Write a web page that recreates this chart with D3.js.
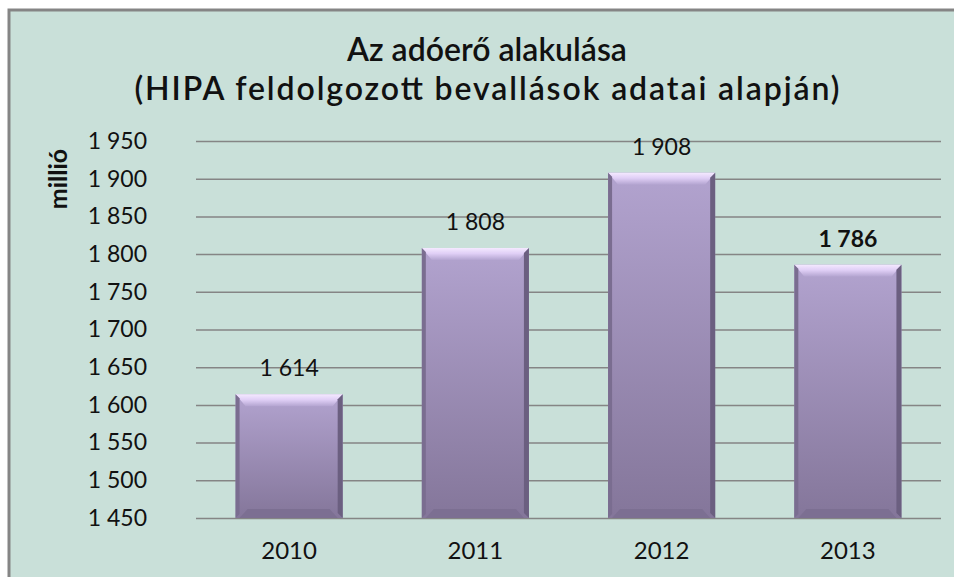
<!DOCTYPE html>
<html>
<head>
<meta charset="utf-8">
<script src="https://cdn.jsdelivr.net/npm/d3@7"></script>
<style>
  body { margin: 0; background: #fff; }
  text { font-family: Lato, "Open Sans", sans-serif; }
</style>
</head>
<body>
<div id="chart"></div>
<script>
// adatok
const evek = ["2010", "2011", "2012", "2013"];
const adoero = [1614, 1808, 1908, 1786];
const yTicks = [1450, 1500, 1550, 1600, 1650, 1700, 1750, 1800, 1850, 1900, 1950];
const cim1 = "Az adóerő alakulása";
const cim2 = "(HIPA feldolgozott bevallások adatai alapján)";
const yCim = "millió";

var width = 954;
var height = 577;
var margin = { top: 141, right: 13, bottom: 59, left: 196 };

const loc = d3.formatLocale({ decimal: ",", thousands: "\u00a0", grouping: [3], currency: ["", ""] });
const fmt = loc.format(",d");

var svg = d3.select("#chart")
    .append("svg")
    .attr("width", width)
    .attr("height", height);

var defs = svg.append("defs");
var g1 = defs.append("linearGradient").attr("id", "barGrad")
    .attr("x1", 0).attr("y1", 0).attr("x2", 0).attr("y2", 1);
g1.append("stop").attr("offset", "0%").attr("stop-color", "#b2a3cf");
g1.append("stop").attr("offset", "100%").attr("stop-color", "#84769a");
var g2 = defs.append("linearGradient").attr("id", "topGrad")
    .attr("x1", 0).attr("y1", 0).attr("x2", 0).attr("y2", 1);
g2.append("stop").attr("offset", "0%").attr("stop-color", "#f4e9ff");
g2.append("stop").attr("offset", "45%").attr("stop-color", "#e0cff6");
g2.append("stop").attr("offset", "100%").attr("stop-color", "#b3a4d0");

// hatter + keret
svg.append("rect")
    .attr("x", 9).attr("y", 10)
    .attr("width", width).attr("height", height)
    .attr("fill", "#c9e0d9")
    .attr("stroke", "#858585")
    .attr("stroke-width", 3);

var x = d3.scaleBand()
    .domain(evek)
    .range([margin.left, width - margin.right])
    .paddingInner(0.425)
    .paddingOuter(0.2125);

var y = d3.scaleLinear()
    .domain([1450, 1950])
    .range([height - margin.bottom, margin.top]);

// y tengely racsvonalakkal
var yAxis = svg.append("g")
    .attr("transform", "translate(" + margin.left + ",0)")
    .call(d3.axisLeft(y)
        .tickValues(yTicks)
        .tickFormat(fmt)
        .tickSize(-(width - margin.right - margin.left))
        .tickPadding(49));
yAxis.select(".domain").remove();
yAxis.selectAll("line").attr("stroke", "#858585").attr("stroke-width", 1.5);
yAxis.selectAll("text")
    .style("font-size", "23px")
    .attr("fill", "#111");

// x tengely
var xAxis = svg.append("g")
    .attr("transform", "translate(0," + (height - margin.bottom) + ")")
    .call(d3.axisBottom(x).tickSize(0).tickPadding(24));
xAxis.select(".domain").remove();
xAxis.selectAll("text")
    .style("font-size", "24px")
    .attr("fill", "#111");

// oszlopok
var bw = x.bandwidth();
var oszlop = svg.selectAll(".bar")
    .data(evek.map((d, i) => ({ ev: d, v: adoero[i] })))
    .enter()
    .append("g")
    .attr("class", "bar");

oszlop.append("rect")
    .attr("x", d => x(d.ev))
    .attr("y", d => y(d.v))
    .attr("width", bw)
    .attr("height", d => y(1450) - y(d.v))
    .attr("fill", "url(#barGrad)");

var b = 10;
// felso fazetta
oszlop.append("polygon")
    .attr("points", d => {
        var x0 = x(d.ev), y0 = y(d.v);
        return [[x0, y0], [x0 + bw, y0], [x0 + bw - b, y0 + b + 2], [x0 + b, y0 + b + 2]].join(" ");
    })
    .attr("fill", "url(#topGrad)");
// bal oldal
oszlop.append("polygon")
    .attr("points", d => {
        var x0 = x(d.ev), y0 = y(d.v), y1 = y(1450);
        return [[x0, y0], [x0 + 4, y0 + 4], [x0 + 4, y1 - 4], [x0, y1]].join(" ");
    })
    .attr("fill", "#7a6d90");
// jobb oldal
oszlop.append("polygon")
    .attr("points", d => {
        var x0 = x(d.ev) + bw, y0 = y(d.v), y1 = y(1450);
        return [[x0, y0], [x0 - 5, y0 + 5], [x0 - 5, y1 - 5], [x0, y1]].join(" ");
    })
    .attr("fill", "#6b5f80");
// also fazetta
oszlop.append("polygon")
    .attr("points", d => {
        var x0 = x(d.ev), y1 = y(1450);
        return [[x0 + 4, y1], [x0 + bw - 5, y1], [x0 + bw - 5 - 8, y1 - 9], [x0 + 4 + 8, y1 - 9]].join(" ");
    })
    .attr("fill", "#7c6f92");

// ertek cimkek
svg.selectAll(".cimke")
    .data(evek.map((d, i) => ({ ev: d, v: adoero[i], last: i === evek.length - 1 })))
    .enter()
    .append("text")
    .attr("class", "cimke")
    .attr("x", d => x(d.ev) + bw / 2)
    .attr("y", d => y(d.v) - 18)
    .attr("text-anchor", "middle")
    .style("font-size", "23px")
    .style("font-weight", d => d.last ? "bold" : "normal")
    .attr("fill", "#111")
    .text(d => fmt(d.v));

// cim
svg.append("text")
    .attr("x", 487).attr("y", 61)
    .attr("text-anchor", "middle")
    .style("font-size", "32px")
    .style("font-weight", "600")
    .attr("fill", "#111")
    .text(cim1);
svg.append("text")
    .attr("x", 487).attr("y", 100)
    .attr("text-anchor", "middle")
    .attr("textLength", 705)
    .attr("lengthAdjust", "spacing")
    .style("font-size", "32px")
    .style("font-weight", "600")
    .attr("fill", "#111")
    .text(cim2);

// y tengely felirat
svg.append("text")
    .attr("transform", "translate(67,179) rotate(-90)")
    .attr("text-anchor", "middle")
    .style("font-size", "25px")
    .style("font-weight", "bold")
    .attr("fill", "#111")
    .text(yCim);
</script>
</body>
</html>
